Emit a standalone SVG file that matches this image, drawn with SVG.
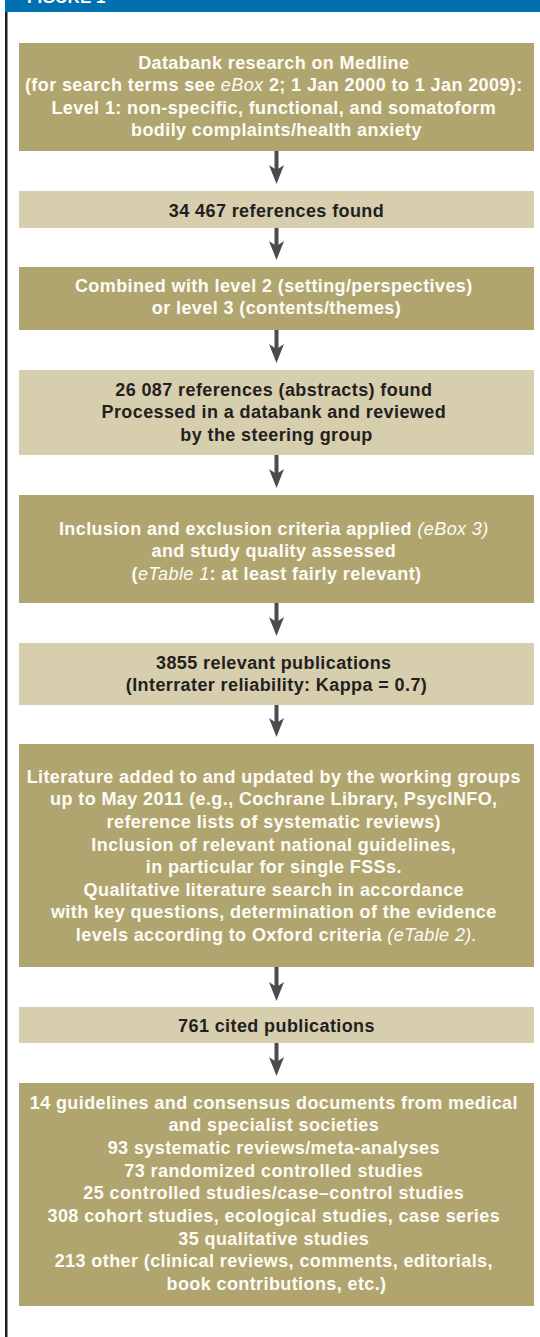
<svg xmlns="http://www.w3.org/2000/svg" width="540" height="1337" viewBox="0 0 540 1337">
<style>
  .dark { fill: #b1a56f; }
  .light { fill: #d7ceae; }
  .t { font-family: "Liberation Sans", Arial, sans-serif; font-weight: bold; font-size: 18px; letter-spacing: 0.4px; text-anchor: middle; }
  .tw { fill: #fdfcf6; }
  .tb { fill: #231f20; }
  .it { font-style: italic; font-weight: normal; }
  .arrow { fill: #4b4b4d; }
</style>
<defs>
  <path id="ah" d="M-7.5,-19 L0,0 L7.5,-19 L0,-14 Z"/>
</defs>
<g id="frame">
  <rect x="5" y="0" width="535" height="12" fill="#0070b0"/>
  <text x="27" y="3" font-family="Liberation Sans, Arial, sans-serif" font-weight="bold" font-size="17" fill="#ffffff">FIGURE 1</text>
  <rect x="5" y="12" width="2.5" height="1325" fill="#231f20"/>
</g>
<g id="connectors">
  <g class="arrow">
    <rect x="274.5" y="151" width="4" height="20"/><use href="#ah" x="276.5" y="184"/>
    <rect x="274.5" y="228" width="4" height="20"/><use href="#ah" x="276.5" y="260"/>
    <rect x="274.5" y="330" width="4" height="20"/><use href="#ah" x="276.5" y="363"/>
    <rect x="274.5" y="455" width="4" height="20"/><use href="#ah" x="276.5" y="488"/>
    <rect x="274.5" y="603" width="4" height="20"/><use href="#ah" x="276.5" y="636"/>
    <rect x="274.5" y="705" width="4" height="20"/><use href="#ah" x="276.5" y="737"/>
    <rect x="274.5" y="967" width="4" height="20"/><use href="#ah" x="276.5" y="1001"/>
    <rect x="274.5" y="1043" width="4" height="20"/><use href="#ah" x="276.5" y="1076"/>
  </g>
</g>
<g id="n1">
  <rect class="dark" x="19" y="43" width="515" height="108"/>
  <text class="t tw" x="276.5">
    <tspan x="276.5" y="68.5">Databank research on Medline</tspan>
    <tspan x="276.5" y="91">(for search terms see <tspan class="it">eBox</tspan> 2; 1 Jan 2000 to 1 Jan 2009):</tspan>
    <tspan x="276.5" y="113.5">Level 1: non-specific, functional, and somatoform</tspan>
    <tspan x="276.5" y="136">bodily complaints/health anxiety</tspan>
  </text>
</g>
<g id="n2">
  <rect class="light" x="19" y="191" width="515" height="37"/>
  <text class="t tb" x="276.5" y="216.5">34 467 references found</text>
</g>
<g id="n3">
  <rect class="dark" x="19" y="267" width="515" height="63"/>
  <text class="t tw">
    <tspan x="276.5" y="291.5">Combined with level 2 (setting/perspectives)</tspan>
    <tspan x="276.5" y="314">or level 3 (contents/themes)</tspan>
  </text>
</g>
<g id="n4">
  <rect class="light" x="19" y="370" width="515" height="85"/>
  <text class="t tb">
    <tspan x="276.5" y="395.5">26 087 references (abstracts) found</tspan>
    <tspan x="276.5" y="417.5">Processed in a databank and reviewed</tspan>
    <tspan x="276.5" y="440.5">by the steering group</tspan>
  </text>
</g>
<g id="n5">
  <rect class="dark" x="19" y="495" width="515" height="108"/>
  <text class="t tw">
    <tspan x="276.5" y="534.5">Inclusion and exclusion criteria applied <tspan class="it">(eBox 3)</tspan></tspan>
    <tspan x="276.5" y="557">and study quality assessed</tspan>
    <tspan x="276.5" y="579.5">(<tspan class="it">eTable 1</tspan>: at least fairly relevant)</tspan>
  </text>
</g>
<g id="n6">
  <rect class="light" x="19" y="643" width="515" height="62"/>
  <text class="t tb">
    <tspan x="276.5" y="668.5">3855 relevant publications</tspan>
    <tspan x="276.5" y="691">(Interrater reliability: Kappa = 0.7)</tspan>
  </text>
</g>
<g id="n7">
  <rect class="dark" x="19" y="744" width="515" height="223"/>
  <text class="t tw">
    <tspan x="276.5" y="782.7">Literature added to and updated by the working groups</tspan>
    <tspan x="276.5" y="805.3">up to May 2011 (e.g., Cochrane Library, PsycINFO,</tspan>
    <tspan x="276.5" y="827.9">reference lists of systematic reviews)</tspan>
    <tspan x="276.5" y="850.5">Inclusion of relevant national guidelines,</tspan>
    <tspan x="276.5" y="873.1">in particular for single FSSs.</tspan>
    <tspan x="276.5" y="895.7">Qualitative literature search in accordance</tspan>
    <tspan x="276.5" y="918.3">with key questions, determination of the evidence</tspan>
    <tspan x="276.5" y="940.9">levels according to Oxford criteria <tspan class="it">(eTable 2).</tspan></tspan>
  </text>
</g>
<g id="n8">
  <rect class="light" x="19" y="1007" width="515" height="36"/>
  <text class="t tb" x="276.5" y="1032">761 cited publications</text>
</g>
<g id="n9">
  <rect class="dark" x="19" y="1083" width="515" height="223"/>
  <text class="t tw">
    <tspan x="276.5" y="1108.6">14 guidelines and consensus documents from medical</tspan>
    <tspan x="276.5" y="1131.3">and specialist societies</tspan>
    <tspan x="276.5" y="1154">93 systematic reviews/meta-analyses</tspan>
    <tspan x="276.5" y="1176.7">73 randomized controlled studies</tspan>
    <tspan x="276.5" y="1199.4">25 controlled studies/case–control studies</tspan>
    <tspan x="276.5" y="1222">308 cohort studies, ecological studies, case series</tspan>
    <tspan x="276.5" y="1244.7">35 qualitative studies</tspan>
    <tspan x="276.5" y="1267.4">213 other (clinical reviews, comments, editorials,</tspan>
    <tspan x="276.5" y="1290">book contributions, etc.)</tspan>
  </text>
</g>
</svg>
